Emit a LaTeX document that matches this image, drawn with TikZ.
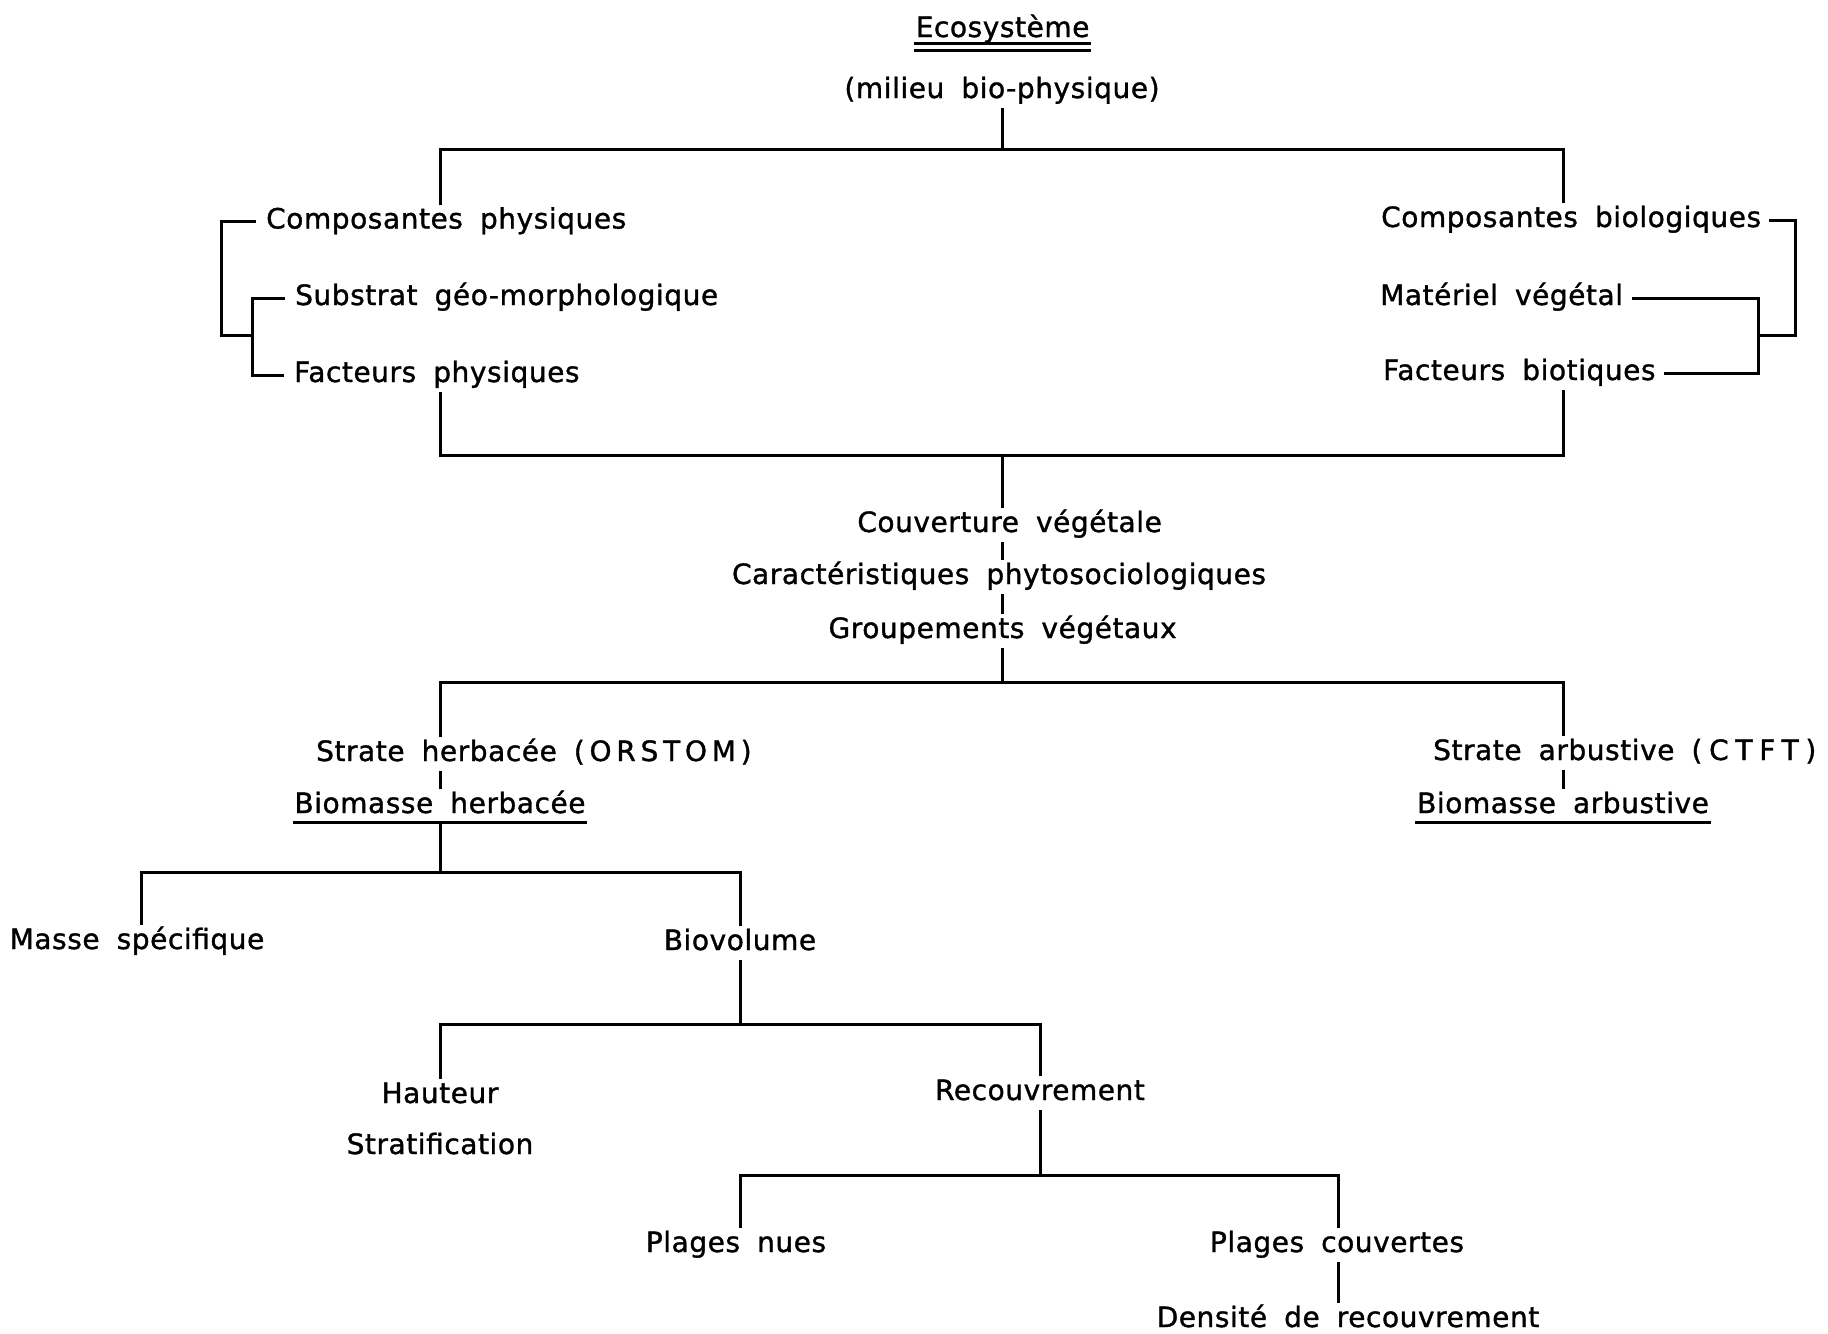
\documentclass[tikz,border=0pt]{standalone}
\usepackage{fontspec}
\setmainfont{DejaVu Sans}[WordSpace=1.8, LetterSpace=2, FakeBold=1.2]
\newcommand\lblfont{\fontsize{28}{32}\selectfont}
\tikzset{
  lbl/.style={inner xsep=0pt, inner ysep=4pt, text height=21pt, text depth=7pt, font=\lblfont},
  conn/.style={line width=3pt, line cap=rect},
}
\begin{document}
\begin{tikzpicture}[x=1pt,y=-1pt]
\useasboundingbox[fill=white] (0,0) rectangle (1828,1333);
% columns and junctions
\coordinate (cL) at (440,0);
\coordinate (cR) at (1563,0);
\coordinate (cM) at (1002.6,0);
\coordinate (c1) at (141,0);
\coordinate (c2) at (740,0);
\coordinate (c3) at (1040,0);
\coordinate (c4) at (1338,0);
\coordinate (j1) at (1002.6,149);
\coordinate (j2) at (1002.6,455);
\coordinate (j3) at (1002.6,682);
\coordinate (j4) at (440,872);
\coordinate (j5) at (740,1024);
\coordinate (j6) at (1040,1175);
\coordinate (jL) at (252,335);
\coordinate (oL) at (221.5,335);
\coordinate (jR) at (1758,335);
\coordinate (oR) at (1795,335);

% nodes
\node[lbl, anchor=base] (eco) at (1002.6,37) {Ecosystème};
\node[lbl, anchor=base] (mil) at (1002,98) {(milieu bio-physique)};
\node[lbl, anchor=base west] (cp) at (266,228.5) {Composantes physiques};
\node[lbl, anchor=base west] (ss) at (295,305) {Substrat géo-morphologique};
\node[lbl, anchor=base west] (fp) at (294,382) {Facteurs physiques};
\node[lbl, anchor=base west] (cb) at (1381,227) {Composantes biologiques};
\node[lbl, anchor=base west] (mv) at (1380,305) {Matériel végétal};
\node[lbl, anchor=base west] (fb) at (1383,380) {Facteurs biotiques};
\node[lbl, anchor=base] (cv) at (1009.6,532) {Couverture végétale};
\node[lbl, anchor=base] (ca) at (999,584) {Caractéristiques phytosociologiques};
\node[lbl, anchor=base] (gv) at (1002.6,638) {Groupements végétaux};
\node[lbl, anchor=base west] (sh) at (316,761) {Strate herbacée {\addfontfeature{LetterSpace=17}(ORSTOM)}};
\node[lbl, anchor=base] (bh) at (440,813) {Biomasse herbacée};
\node[lbl, anchor=base west] (sa) at (1433,760) {Strate arbustive {\addfontfeature{LetterSpace=24}(CTFT)}};
\node[lbl, anchor=base] (ba) at (1563,813) {Biomasse arbustive};
\node[lbl, anchor=base] (ms) at (137,949) {Masse spécifique};
\node[lbl, anchor=base] (bv) at (740,950) {Biovolume};
\node[lbl, anchor=base] (ha) at (440,1103) {Hauteur};
\node[lbl, anchor=base] (st) at (440,1154) {Stratification};
\node[lbl, anchor=base] (re) at (1040,1100) {Recouvrement};
\node[lbl, anchor=base] (pn) at (736,1252) {Plages nues};
\node[lbl, anchor=base] (pc) at (1337,1252) {Plages couvertes};
\node[lbl, anchor=base] (de) at (1348,1327) {Densité de recouvrement};

% underlines
\draw[conn] ([yshift=-6pt]eco.base west) -- ([yshift=-6pt]eco.base east);
\draw[conn] ([yshift=-13pt]eco.base west) -- ([yshift=-13pt]eco.base east);
\draw[conn] ([yshift=-9pt]bh.base west) -- ([yshift=-9pt]bh.base east);
\draw[conn] ([yshift=-9pt]ba.base west) -- ([yshift=-9pt]ba.base east);

% level 1
\draw[conn] (mil.south -| j1) -- (j1);
\draw[conn] (cp.north -| cL) -- (cL |- j1) -- (cR |- j1) -- (cb.north -| cR);
% brackets left
\draw[conn] ([xshift=-12pt]cp.west) -| (oL) -- (jL);
\draw[conn] ([xshift=-12pt]ss.west) -| (jL) |- ([xshift=-12pt]fp.west);
% brackets right
\draw[conn] ([xshift=9pt]cb.east) -| (oR) -- (jR);
\draw[conn] ([xshift=10pt]mv.east) -| (jR) |- ([xshift=10pt]fb.east);
% level 2
\draw[conn] (fp.south -| cL) -- (cL |- j2) -- (cR |- j2) -- (fb.south -| cR);
\draw[conn] (j2) -- (cv.north -| j2);
\draw[conn] (cv.south -| j2) -- (ca.north -| j2);
\draw[conn] (ca.south -| j2) -- (gv.north -| j2);
\draw[conn] (gv.south -| j2) -- (j3);
% level 3
\draw[conn] (sh.north -| cL) -- (cL |- j3) -- (cR |- j3) -- (sa.north -| cR);
\draw[conn] (sh.south -| cL) -- (bh.north -| cL);
\draw[conn] (sa.south -| cR) -- (ba.north -| cR);
% level 4
\draw[conn] (bh.south -| j4) -- (j4);
\draw[conn] (ms.north -| c1) -- (c1 |- j4) -- (c2 |- j4) -- (bv.north -| c2);
% level 5
\draw[conn] (bv.south -| j5) -- (j5);
\draw[conn] (ha.north -| cL) -- (cL |- j5) -- (c3 |- j5) -- (re.north -| c3);
% level 6
\draw[conn] (re.south -| j6) -- (j6);
\draw[conn] (pn.north -| c2) -- (c2 |- j6) -- (c4 |- j6) -- (pc.north -| c4);
\draw[conn] (pc.south -| c4) -- (de.north -| c4);
\end{tikzpicture}
\end{document}
